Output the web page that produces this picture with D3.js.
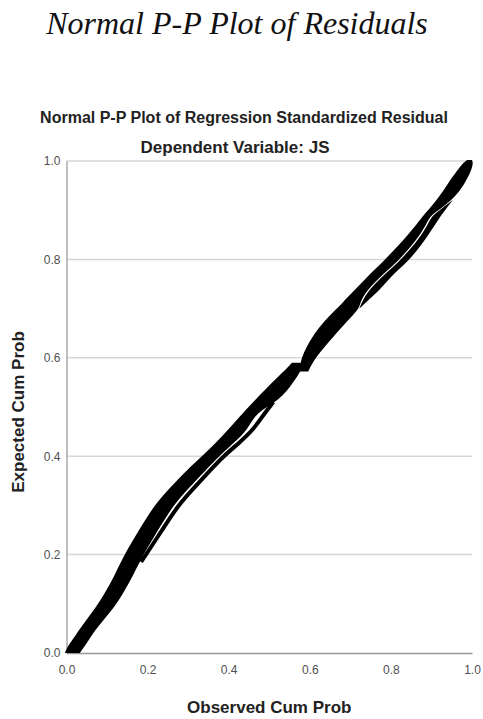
<!DOCTYPE html>
<html>
<head>
<meta charset="utf-8">
<script src="https://cdn.jsdelivr.net/npm/d3@7"></script>
<style>
  html, body { margin: 0; padding: 0; background: #fff; }
  svg { display: block; }
</style>
</head>
<body>
<svg id="chart" width="483" height="719"></svg>
<script>
// ---- data ----
const pageTitle = "Normal P-P Plot of Residuals";
const chartTitle = "Normal P-P Plot of Regression Standardized Residual";
const chartSubtitle = "Dependent Variable: JS";
const xTitle = "Observed Cum Prob";
const yTitle = "Expected Cum Prob";
const xTicks = [0.0, 0.2, 0.4, 0.6, 0.8, 1.0];
const yTicks = [0.0, 0.2, 0.4, 0.6, 0.8, 1.0];
const gridValues = [0.2, 0.4, 0.6, 0.8, 1.0];

// dense residual point cloud, lower part: for each expected cum prob, the
// smallest and largest observed cum prob covered by the points
const lowerExp   = [0.000, 0.015, 0.030, 0.050, 0.094, 0.142, 0.200, 0.250, 0.300, 0.336, 0.372, 0.400, 0.428, 0.453, 0.488, 0.514, 0.550, 0.575, 0.590];
const lowerLeft  = [-0.004, 0.004, 0.018, 0.033, 0.074, 0.110, 0.142, 0.179, 0.216, 0.255, 0.297, 0.334, 0.369, 0.398, 0.435, 0.465, 0.507, 0.539, 0.556];
const lowerRight = [0.033, 0.046, 0.058, 0.073, 0.120, 0.155, 0.189, 0.226, 0.263, 0.302, 0.344, 0.376, 0.413, 0.447, 0.465, 0.527, 0.559, 0.580, 0.580];
// thin run of points just right of the lower cloud
const threadExp = [0.185, 0.200, 0.250, 0.300, 0.336, 0.372, 0.400, 0.428, 0.453, 0.488, 0.510];
const threadObs = [0.184, 0.196, 0.236, 0.275, 0.315, 0.355, 0.387, 0.427, 0.460, 0.489, 0.510];
// upper part of the cloud (above the step near 0.58)
const upperExp   = [0.572, 0.600, 0.643, 0.677, 0.700, 0.711, 0.738, 0.770, 0.803, 0.854, 0.886, 0.895, 0.921, 0.955, 0.980, 0.996, 1.002];
const upperLeft  = [0.575, 0.578, 0.605, 0.638, 0.667, 0.679, 0.711, 0.748, 0.790, 0.847, 0.877, 0.886, 0.914, 0.941, 0.963, 0.978, 0.988];
const upperRight = [0.596, 0.613, 0.658, 0.695, 0.722, 0.736, 0.773, 0.805, 0.852, 0.896, 0.921, 0.929, 0.953, 0.983, 0.998, 1.003, 1.000];
// where the upper cloud splits into two runs (position of the thin empty seam)
const splitExp = [0.700, 0.711, 0.738, 0.770, 0.803, 0.854, 0.886, 0.895, 0.921];
const splitObs = [0.722, 0.725, 0.743, 0.783, 0.828, 0.879, 0.897, 0.910, 0.953];

const svg = d3.select("#chart");
const x = d3.scaleLinear().domain([0, 1]).range([66.5, 472]);
const y = d3.scaleLinear().domain([0, 1]).range([653, 161]);
const sans = "'Liberation Sans', Arial, Helvetica, sans-serif";

// page title
svg.append("text")
  .attr("x", 237).attr("y", 34)
  .attr("text-anchor", "middle")
  .attr("font-family", "'Liberation Serif', 'Times New Roman', serif")
  .attr("font-style", "italic")
  .attr("font-size", 32)
  .attr("fill", "#111")
  .text(pageTitle);

// chart titles
svg.append("text")
  .attr("x", 244).attr("y", 123)
  .attr("text-anchor", "middle")
  .attr("font-family", sans)
  .attr("font-weight", "bold")
  .attr("font-size", 16)
  .attr("fill", "#222")
  .text(chartTitle);
svg.append("text")
  .attr("x", 235).attr("y", 153)
  .attr("text-anchor", "middle")
  .attr("font-family", sans)
  .attr("font-weight", "bold")
  .attr("font-size", 17)
  .attr("fill", "#222")
  .text(chartSubtitle);

// gridlines
svg.append("g")
  .selectAll("line")
  .data(gridValues)
  .join("line")
  .attr("x1", x(0)).attr("x2", x(1))
  .attr("y1", d => y(d)).attr("y2", d => y(d))
  .attr("stroke", "#d6d6d6")
  .attr("stroke-width", 1.5);

// y axis
const yAxis = svg.append("g")
  .attr("transform", `translate(${x(0)},0)`)
  .call(d3.axisLeft(y).tickValues(yTicks).tickFormat(d3.format(".1f")).tickSize(0).tickPadding(6));
yAxis.select(".domain").attr("stroke", "#aaa").attr("stroke-width", 1.5);
yAxis.selectAll("text")
  .attr("font-family", sans)
  .attr("font-size", 12)
  .attr("fill", "#505050");

// x axis
const xAxis = svg.append("g")
  .attr("transform", `translate(0,${y(0)})`)
  .call(d3.axisBottom(x).tickValues(xTicks).tickFormat(d3.format(".1f")).tickSize(0).tickPadding(12));
xAxis.select(".domain").attr("stroke", "#999").attr("stroke-width", 1.5);
xAxis.selectAll("text")
  .attr("font-family", sans)
  .attr("font-size", 12)
  .attr("fill", "#505050");

// axis titles
svg.append("text")
  .attr("x", (x(0) + x(1)) / 2).attr("y", 713)
  .attr("text-anchor", "middle")
  .attr("font-family", sans)
  .attr("font-weight", "bold")
  .attr("font-size", 17)
  .attr("fill", "#222")
  .text(xTitle);
svg.append("text")
  .attr("transform", `translate(24,${(y(0) + y(1)) / 2 + 5}) rotate(-90)`)
  .attr("text-anchor", "middle")
  .attr("font-family", sans)
  .attr("font-weight", "bold")
  .attr("font-size", 17)
  .attr("fill", "#222")
  .text(yTitle);

// ---- point cloud ----
const band = d3.area()
  .y(d => y(d.e))
  .x0(d => x(d.l))
  .x1(d => x(d.r))
  .curve(d3.curveBasis);

const lowerRows = lowerExp.map((e, i) => ({ e, l: lowerLeft[i], r: lowerRight[i] }));

const gapHalf = 0.002;
const splitIndex = e => splitExp.indexOf(e);
const lastSplit = splitExp.length - 1;
const upperA = upperExp.map((e, i) => {
  const j = splitIndex(e);
  if (j < 0) return { e, l: upperLeft[i], r: upperRight[i] };
  const h = (j === 0 || j === lastSplit) ? 0 : gapHalf;
  return { e, l: upperLeft[i], r: splitObs[j] - h };
});
const upperB = upperExp.map((e, i) => {
  const j = splitIndex(e);
  if (j < 0) return null;
  const h = (j === 0 || j === lastSplit) ? 0 : gapHalf;
  return { e, l: splitObs[j] + h, r: upperRight[i] };
}).filter(d => d);

[lowerRows, upperA, upperB].forEach(rows => {
  svg.append("path")
    .datum(rows)
    .attr("d", band)
    .attr("fill", "#000");
});

const threadLine = d3.line()
  .x(d => x(d[0])).y(d => y(d[1]))
  .curve(d3.curveBasis);
svg.append("path")
  .datum(threadObs.map((v, i) => [v, threadExp[i]]))
  .attr("d", threadLine)
  .attr("fill", "none")
  .attr("stroke", "#000")
  .attr("stroke-width", 4);
</script>
</body>
</html>
